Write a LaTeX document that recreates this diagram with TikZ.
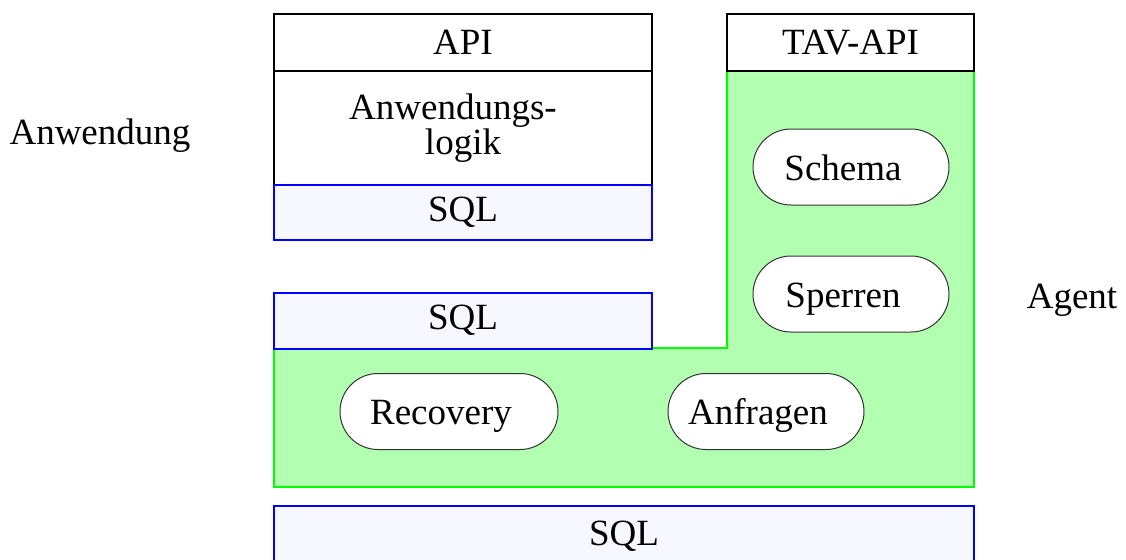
\documentclass[tikz,border=0pt]{standalone}
\usepackage{fontspec}
\setmainfont{Liberation Serif}
\usetikzlibrary{shapes.misc}
\tikzset{
	layer/.style={draw=black, line width=1pt, fill=white, inner sep=0pt, minimum width=189pt},
	sqlbox/.style={draw=blue, line width=1pt, fill=blue!3, inner sep=0pt},
	agentarea/.style={draw=green, fill=green!30, line width=1pt},
	pill/.style={rounded rectangle, draw=black!80, line width=0.5pt, fill=white,
		inner sep=0pt, minimum width=98pt, minimum height=38pt,
		text height=13pt, text depth=0pt,
		execute at end node={\hspace*{8pt}}},
}

\begin{document}
\begin{tikzpicture}[x=0.5pt, y=-0.5pt, font=\fontsize{18.5}{16.5}\selectfont]
	\clip (0,0) rectangle (1126,559);

	% Agent
	\draw [agentarea] (727,71) -- (974,71) -- (974,487) -- (274,487) -- (274,348) -- (727,348) -- cycle;

	% Anwendung
	\node [layer, minimum height=28.5pt] (api) at (463,42.5) {API};
	\node [layer, minimum height=57pt, align=center] (logik) at (463,128) {Anwendungs-\hspace*{10pt}\\logik};
	\node [sqlbox, minimum width=189pt, minimum height=27.5pt] (sqlA) at (463,212.5) {SQL};

	\node [layer, minimum width=123.5pt, minimum height=28.5pt] (tavapi) at (850.5,42.5) {TAV-API};
	\node [sqlbox, minimum width=189pt, minimum height=28pt] (sqlB) at (463,320.5) {SQL};
	\node [sqlbox, minimum width=350pt, minimum height=30pt] (sqlC) at (624,536) {SQL};

	\node [pill] (schema) at (851,167) {Schema};
	\node [pill] (sperren) at (851,294) {Sperren};
	\node [pill, minimum width=109pt] (recovery) at (449,411.5) {Recovery};
	\node [pill] (anfragen) at (766,411.5) {Anfragen};

	\node (anw) at (100,136) {Anwendung};
	\node (agent) at (1072,300) {Agent};
\end{tikzpicture}
\end{document}
